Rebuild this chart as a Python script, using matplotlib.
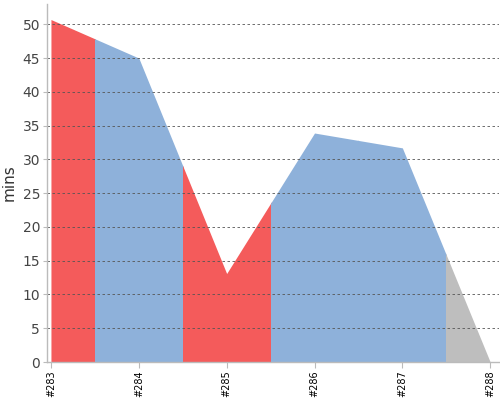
import matplotlib
matplotlib.use("Agg")
import matplotlib.pyplot as plt
from matplotlib.patches import Rectangle

builds = ['#283', '#284', '#285', '#286', '#287', '#288']
durations = [50.7, 45.0, 13.1, 33.9, 31.7, 0.0]
results = ['failed', 'success', 'failed', 'success', 'success', 'aborted']
result_colors = {'failed': '#f45b5b', 'success': '#8eb1da', 'aborted': '#bebebe'}

x = list(range(len(builds)))

fig = plt.figure(figsize=(5, 4), dpi=100)
ax = fig.add_axes([0.094, 0.095, 0.904, 0.895])

for i, res in enumerate(results):
    poly = ax.fill_between(x, durations, 0, color=result_colors[res], lw=0, zorder=1)
    clip = Rectangle((i - 0.5, 0), 1, 100, transform=ax.transData)
    poly.set_clip_path(clip)

ax.set_xlim(-0.045, 5.1)
ax.set_ylim(0, 53)
ax.set_yticks(range(0, 51, 5))
ax.set_xticks(x)
ax.set_xticklabels(builds, rotation=90, fontsize=7)

ax.grid(axis='y', color='#555555', lw=0.6, ls=(0, (3, 3)), zorder=3)
ax.set_axisbelow(False)

for s in ['top', 'right']:
    ax.spines[s].set_visible(False)
for s in ['left', 'bottom']:
    ax.spines[s].set_color('#bbbbbb')
    ax.spines[s].set_linewidth(1)
    ax.spines[s].set_zorder(4)

ax.tick_params(axis='y', length=3, color='#bbbbbb', labelsize=10, labelcolor='#444444', pad=2)
ax.tick_params(axis='x', length=4, color='#bbbbbb', labelcolor='#000000', pad=2)

ax.set_ylabel('mins', fontsize=11, color='#333333', labelpad=4)

plt.savefig('out.png', dpi=100)
